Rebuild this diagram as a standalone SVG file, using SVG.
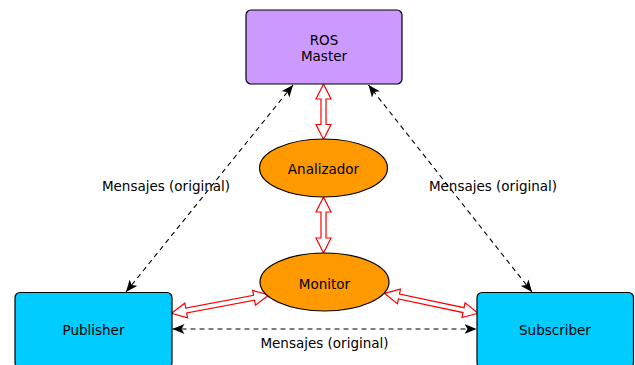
<svg xmlns="http://www.w3.org/2000/svg" width="635" height="365" viewBox="0 0 635 365">
<style>
.box{stroke:#000;stroke-width:1.2}
.lbl{font-family:"DejaVu Sans",sans-serif;font-size:13.5px;fill:#000;text-anchor:middle}
.dash{fill:none;stroke:#000;stroke-width:1.1;stroke-dasharray:5,4}
.red{fill:#fff;stroke:#ff0000;stroke-width:1.2;stroke-linejoin:miter}
</style>
<defs>
<marker id="ah" viewBox="0 0 12 10" refX="12" refY="5" markerWidth="12" markerHeight="10" markerUnits="userSpaceOnUse" orient="auto-start-reverse">
<path d="M0,0 L12,5 L0,10 L3,5 Z" fill="#000"/>
</marker>
</defs>
<rect width="635" height="365" fill="#fff"/>
<g id="connectors">
<line class="dash" x1="126" y1="292" x2="293" y2="85" marker-start="url(#ah)" marker-end="url(#ah)"/>
<line class="dash" x1="532" y1="292" x2="368.5" y2="85" marker-start="url(#ah)" marker-end="url(#ah)"/>
<line class="dash" x1="172.5" y1="329" x2="476.5" y2="329" marker-start="url(#ah)" marker-end="url(#ah)"/>
<polygon class="red" transform="translate(323.5,84) rotate(90)" points="0,0 15,-7.5 15,-2.5 40.5,-2.5 40.5,-7.5 55.5,0 40.5,7.5 40.5,2.5 15,2.5 15,7.5"/>
<polygon class="red" transform="translate(323.5,197) rotate(90)" points="0,0 15,-7.5 15,-2.5 41,-2.5 41,-7.5 56,0 41,7.5 41,2.5 15,2.5 15,7.5"/>
<polygon class="red" transform="translate(171.5,313.3) rotate(-10.65)" points="0,0 15,-7.5 15,-2.5 84,-2.5 84,-7.5 99,0 84,7.5 84,2.5 15,2.5 15,7.5"/>
<polygon class="red" transform="translate(384.3,293.3) rotate(12)" points="0,0 15,-7.5 15,-2.5 81,-2.5 81,-7.5 96,0 81,7.5 81,2.5 15,2.5 15,7.5"/>
<text class="lbl" x="166" y="191">Mensajes (original)</text>
<text class="lbl" x="493" y="191">Mensajes (original)</text>
<text class="lbl" x="324.5" y="347.5">Mensajes (original)</text>
</g>
<g id="ros-master">
<rect class="box" x="246" y="10" width="156" height="74" rx="5" fill="#cc99ff"/>
<text class="lbl" x="324" y="44.5">ROS</text>
<text class="lbl" x="324" y="61">Master</text>
</g>
<g id="analizador">
<ellipse class="box" cx="323.5" cy="168" rx="64" ry="29" fill="#ff9900"/>
<text class="lbl" x="323.5" y="174">Analizador</text>
</g>
<g id="monitor">
<ellipse class="box" cx="324.5" cy="282" rx="64.5" ry="29" fill="#ff9900"/>
<text class="lbl" x="324.5" y="288.5">Monitor</text>
</g>
<g id="publisher">
<rect class="box" x="15" y="292.5" width="157" height="75" rx="5" fill="#00ccff"/>
<text class="lbl" x="93.5" y="335">Publisher</text>
</g>
<g id="subscriber">
<rect class="box" x="477" y="292.5" width="156.5" height="75" rx="5" fill="#00ccff"/>
<text class="lbl" x="555" y="335">Subscriber</text>
</g>
</svg>
